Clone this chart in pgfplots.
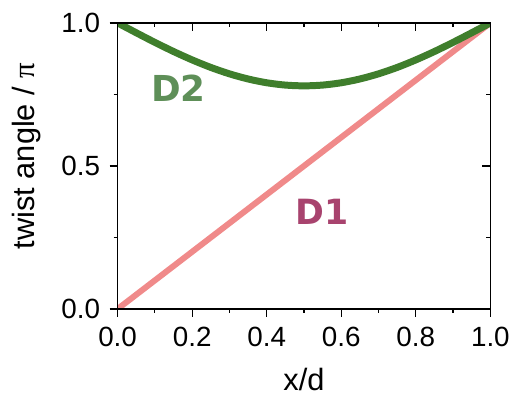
\documentclass[border=0pt]{standalone}
\usepackage{pgfplots}
\pgfplotsset{compat=1.18}
\usepackage{fontspec}
\setmainfont{Liberation Sans}
\newfontfamily\labfont{DejaVu Sans}
\newfontfamily\pifont{Liberation Serif}
\definecolor{dgreen}{HTML}{3F7E2C}
\definecolor{lgreen}{HTML}{5E8F58}
\definecolor{pinkline}{HTML}{F08A8A}
\definecolor{dpink}{HTML}{A8436E}
\pgfplotsset{
  common/.style={
    scale only axis,
    width=374bp, height=287bp,
    xmin=0, xmax=1, ymin=0, ymax=1,
    xtick={0,0.2,0.4,0.6,0.8,1.0},
    minor xtick={0.1,0.3,0.5,0.7,0.9},
    ytick={0,0.5,1.0},
    minor ytick={0.25,0.75},
    axis line style={line width=1.2bp},
    tick style={black, line width=1.2bp},
    major tick length=8bp,
    minor tick length=4bp,
  }
}
\begin{document}
\begin{tikzpicture}
\begin{axis}[
  name=ax,
  common,
  xtick pos=lower, ytick pos=left,
  tick align=outside,
  /pgf/number format/assume math mode=true,
  /pgf/number format/.cd, fixed, fixed zerofill, precision=1, /pgfplots/.cd,
  ticklabel style={font=\fontsize{28}{30}\selectfont},
  xticklabel style={yshift=-7bp},
  yticklabel style={xshift=-6bp},
  xlabel={x/d},
  ylabel={twist angle / {\pifont π}},
  label style={font=\fontsize{31}{34}\selectfont},
  xlabel style={yshift=-14bp},
  ylabel style={yshift=14bp, xshift=10bp},
]
\addplot[pinkline, line width=6bp] coordinates {(0,0) (1,1)};
\addplot[dgreen, line width=7bp, smooth] coordinates {
(0,1) (0.05,0.9656) (0.1,0.9320) (0.15,0.9001) (0.2,0.8707) (0.25,0.8444)
(0.3,0.8220) (0.35,0.8040) (0.4,0.7908) (0.45,0.7827) (0.5,0.78)
(0.55,0.7827) (0.6,0.7908) (0.65,0.8040) (0.7,0.8220) (0.75,0.8444)
(0.8,0.8707) (0.85,0.9001) (0.9,0.9320) (0.95,0.9656) (1,1)};
\node[text=lgreen, font=\labfont\bfseries\fontsize{36}{38}\selectfont] at (axis cs:0.163,0.773) {D2};
\node[text=dpink, font=\labfont\bfseries\fontsize{35}{37}\selectfont] at (axis cs:0.548,0.338) {D1};
\end{axis}
\begin{axis}[
  common,
  at={(ax.south west)}, anchor=south west,
  xtick pos=upper, ytick pos=right,
  tick align=inside,
  xticklabels={}, yticklabels={},
]
\end{axis}
\path ([shift={(-118bp,-90bp)}]ax.south west) rectangle ([shift={(21bp,23bp)}]ax.north east);
\end{tikzpicture}
\end{document}
